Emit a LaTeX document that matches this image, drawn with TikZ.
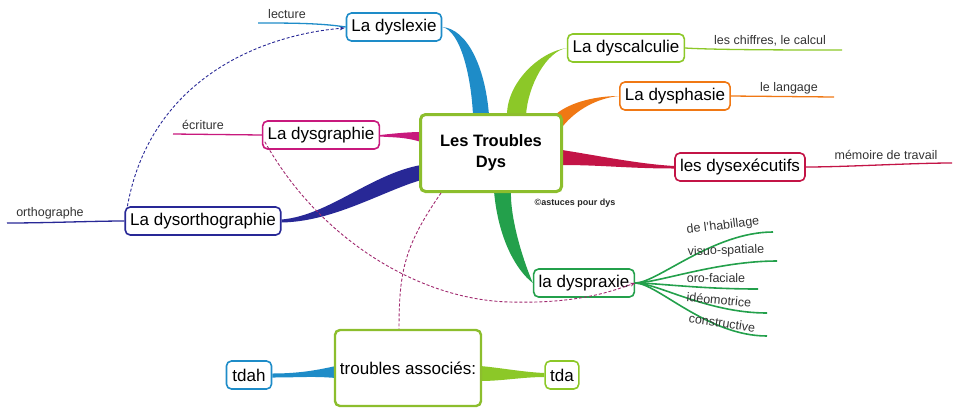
\documentclass[tikz,border=0pt]{standalone}
\usepackage{fontspec}
\setmainfont{Liberation Sans}
\usetikzlibrary{calc,arrows.meta,backgrounds}

\definecolor{olive}{RGB}{140,190,45}
\definecolor{bleu}{RGB}{30,140,200}
\definecolor{magenta}{RGB}{200,25,125}
\definecolor{marine}{RGB}{40,40,150}
\definecolor{vertclair}{RGB}{140,200,40}
\definecolor{orange}{RGB}{240,120,20}
\definecolor{cramoisi}{RGB}{195,20,70}
\definecolor{vert}{RGB}{35,160,75}
\definecolor{lien}{RGB}{160,40,110}

\tikzset{
  dys/.style={draw, rounded corners=5pt, line width=1.6pt, fill=white, minimum height=28pt,
    inner xsep=5pt, inner ysep=0pt, font=\fontsize{17}{20}\selectfont},
  sous/.style={inner sep=0pt, text=black!80, font=\fontsize{12.5}{14}\selectfont},
  fil/.style={line width=1.3pt},
  lienpt/.style={line width=0.9pt, dash pattern=on 3pt off 2pt, -{Stealth[length=5pt,width=4pt]}},
}

\begin{document}
\begin{tikzpicture}[x=1pt, y=-1pt]
  \useasboundingbox (0,0) rectangle (960,416);

  \node[dys, draw=olive, line width=3pt, minimum width=141pt, minimum height=77pt, align=center,
    font=\bfseries\fontsize{16.5}{21}\selectfont] (T) at (491,153) {Les Troubles\\Dys};
  \node[dys, draw=bleu] (L) at (394,27) {La dyslexie};
  \node[dys, draw=magenta] (G) at (321,135) {La dysgraphie};
  \node[dys, draw=marine] (O) at (203,221) {La dysorthographie};
  \node[dys, draw=vertclair] (C) at (626,48) {La dyscalculie};
  \node[dys, draw=orange] (P) at (675,96) {La dysphasie};
  \node[dys, draw=cramoisi] (E) at (740,167) {les dysexécutifs};
  \node[dys, draw=vert] (X) at (584,283) {la dyspraxie};
  \node[dys, draw=olive, line width=2.4pt, minimum width=140pt, minimum height=76pt] (A) at (408,368) {troubles associés:};
  \node[dys, draw=bleu, inner xsep=6pt] (H) at (249,375) {tdah};
  \node[dys, draw=vertclair, inner xsep=5pt] (D) at (562,375) {tda};
  \node[inner sep=0pt, font=\bfseries\fontsize{9}{10}\selectfont, text=black!85] (copy) at (575,203) {©astuces pour dys};

  \begin{scope}[on background layer]
    \fill[bleu] (L.east) .. controls +(18,4) and +(-2,-40) .. ($(T.north)+(-18,2)$)
      -- ($(T.north)+(-2,2)$) .. controls +(-4,-50) and +(24,2) .. (L.east);
    \fill[vertclair] (C.west) .. controls +(-28,4) and +(0,-32) .. ($(T.north)+(16,2)$)
      -- ($(T.north)+(35,2)$) .. controls +(2,-30) and +(-20,3) .. (C.west);
    \fill[orange] (P.west) .. controls +(-27,0) and +(12,-12) .. ($(T.north east)+(-9,3)$)
      -- ($(T.north east)+(0,13)$) .. controls +(13,-16) and +(-22,2) .. (P.west);
    \fill[cramoisi] ($(T.east)+(-1,-3)$) .. controls +(38,6) and +(-35,-2) .. ($(E.west)+(0,-1)$)
      -- ($(E.west)+(0,1.5)$) .. controls +(-45,0) and +(40,0) .. ($(T.east)+(-1,12)$) -- cycle;
    \fill[vert] ($(T.south)+(3,-2)$) .. controls +(4,47) and +(-17,-13) .. (X.west)
      .. controls +(-10,-23) and +(-1,27) .. ($(T.south)+(20,-2)$) -- cycle;
    \fill[magenta] (G.east) .. controls +(18,-2) and +(-10,0) .. ($(T.west)+(2,-21)$)
      -- ($(T.west)+(2,-11)$) .. controls +(-15,-5) and +(13,1) .. ($(G.east)+(0,1.5)$) -- cycle;
    \fill[marine] ($(O.east)+(0,-1.5)$) .. controls +(47,-4) and +(-50,9) .. ($(T.west)+(2,12)$)
      -- ($(T.west)+(2,27)$) .. controls +(-40,12) and +(52,-1) .. ($(O.east)+(0,1.5)$) -- cycle;
    \fill[bleu] ($(H.east)+(0,-1.5)$) .. controls +(27,0) and +(-18,4) .. ($(A.west)+(2,-2)$)
      -- ($(A.west)+(2,10)$) .. controls +(-23,-2) and +(27,0) .. ($(H.east)+(0,2.5)$) -- cycle;
    \fill[vertclair] ($(A.east)+(-2,-2)$) .. controls +(22,2) and +(-22,-1) .. ($(D.west)+(0,-2)$)
      -- ($(D.west)+(0,2)$) .. controls +(-22,0) and +(22,0) .. ($(A.east)+(-2,13)$) -- cycle;
  \end{scope}

  \coordinate (lec) at (258,23);
  \coordinate (ecr) at (173,134);
  \coordinate (ort) at (7,223);
  \coordinate (chi) at (842,50);
  \coordinate (lan) at (834,97);
  \coordinate (mem) at (952,163);
  \draw[bleu, fil] (L.west) .. controls +(-25,-4) and +(30,0) .. (lec);
  \draw[magenta, fil] (G.west) -- (ecr);
  \draw[marine, fil] (O.west) .. controls +(-30,0) and +(40,0) .. (ort);
  \draw[vertclair, fil] (C.east) .. controls +(30,2) and +(-40,0) .. (chi);
  \draw[orange, fil] (P.east) -- (lan);
  \draw[cramoisi, fil] (E.east) .. controls +(40,0) and +(-40,0) .. (mem);
  \node[sous] (lecture) at (287,14) {lecture};
  \node[sous] (ecriture) at (203,125) {écriture};
  \node[sous] (ortho) at (50,213) {orthographe};
  \node[sous] (chiffres) at (770,41) {les chiffres, le calcul};
  \node[sous] (langage) at (789,88) {le langage};
  \node[sous] (memoire) at (886,155) {mémoire de travail};

  \coordinate (hab) at (773,232);
  \coordinate (vis) at (777,261);
  \coordinate (oro) at (758,289);
  \coordinate (ide) at (767,313);
  \coordinate (con) at (767,336);
  \foreach \b in {hab,vis,oro,ide,con}
    \draw[vert, line width=1.6pt] (X.east) .. controls +(22,0) and +(-60,0) .. (\b);
  \node[sous, rotate=7] (habillage) at (723,226) {de l'habillage};
  \node[sous, rotate=2] (visuo) at (726,251) {visuo-spatiale};
  \node[sous] (orofac) at (716,278) {oro-faciale};
  \node[sous, rotate=-5] (ideo) at (719,300) {idéomotrice};
  \node[sous, rotate=-8] (constr) at (722,323) {constructive};

  \draw[marine, lienpt] ($(O.north west)+(3,0)$) .. controls (150,80) and (260,35) .. ($(L.west)+(-1,1)$);
  \draw[lien, lienpt] ($(G.south west)+(3,-8)$) .. controls (320,240) and (420,300) .. (510,302)
    .. controls (580,304) and (615,290) .. (X.east);
  \draw[lien, lienpt, -] ($(T.south)+(-50,0)$) .. controls (405,245) and (399,270) .. ($(A.north)+(-9,0)$);
\end{tikzpicture}
\end{document}
